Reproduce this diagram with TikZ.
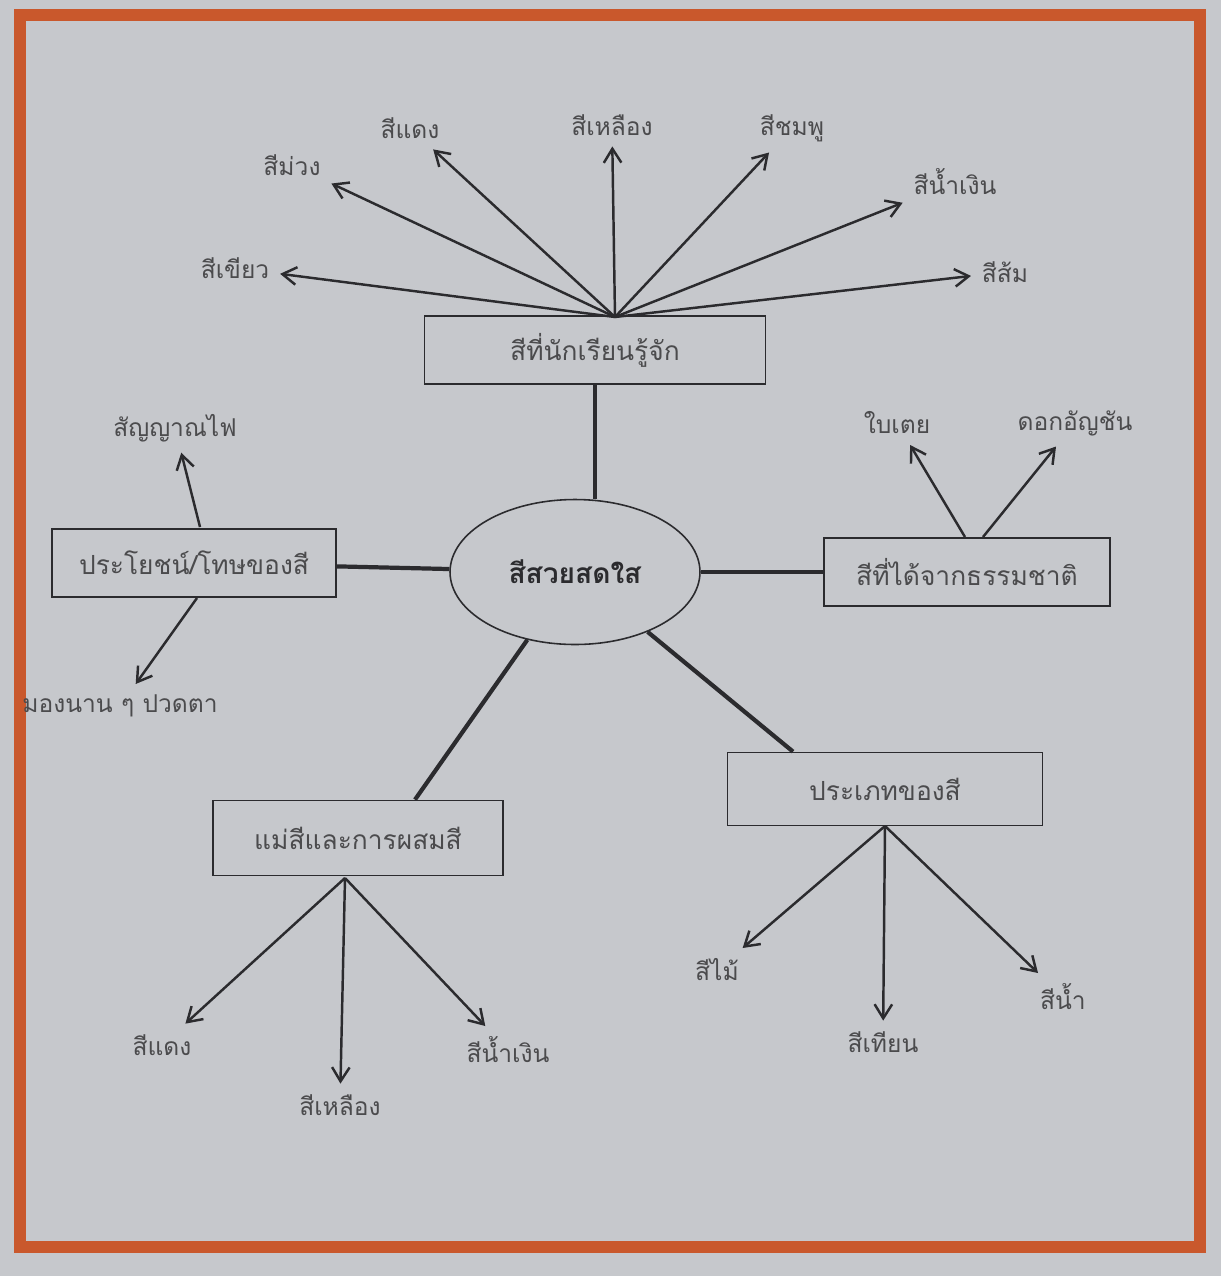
\documentclass[tikz,border=0pt]{standalone}
\usepackage{fontspec}
\newfontfamily\thaifont[Script=Thai]{Loma}
\usetikzlibrary{arrows.meta,shapes.geometric}
\definecolor{paper}{HTML}{C6C8CC}
\definecolor{frame}{HTML}{C9582C}
\definecolor{ink}{HTML}{2B2B2E}

\begin{document}
\begin{tikzpicture}[x=0.02cm,y=-0.02cm,
  box/.style={draw=ink,line width=1pt,minimum height=1.36cm,font=\thaifont\fontsize{15}{18}\selectfont,text=ink!85},
  hub/.style={ellipse,draw=ink,line width=0.9pt,minimum width=5cm,minimum height=2.9cm,font=\thaifont\bfseries\fontsize{16}{19}\selectfont,text=ink},
  lbl/.style={font=\thaifont\fontsize{14}{17}\selectfont,text=ink!85,inner sep=6pt},
  arr/.style={draw=ink,line width=1.4pt,-{Straight Barb[length=8pt,width=10pt,line width=1.4pt]}},
  link/.style={draw=ink,line width=2.4pt}]
  \useasboundingbox (0,0) rectangle (1221,1276);
  \fill[paper] (0,0) rectangle (1221,1276);
  \draw[frame,line width=0.24cm] (20,15) rectangle (1200,1247);
  % centre and topic boxes
  \node[hub] (hub) at (575,572) {สีสวยสดใส};
  \node[box,minimum width=6.82cm] (known) at (595,350) {สีที่นักเรียนรู้จัก};
  \node[box,minimum width=5.68cm] (benefit) at (194,563) {ประโยชน์/โทษของสี};
  \node[box,minimum width=5.72cm] (nature) at (967,572) {สีที่ได้จากธรรมชาติ};
  \node[box,minimum width=5.8cm,minimum height=1.5cm] (mixing) at (358,838) {แม่สีและการผสมสี};
  \node[box,minimum width=6.3cm,minimum height=1.46cm] (kinds) at (885,789) {ประเภทของสี};
  \draw[link] (known) -- (known |- hub.north);
  \draw[link] (hub) -- (benefit);
  \draw[link] (hub) -- (nature);
  \draw[link] (hub) -- ([xshift=1.14cm]mixing.north);
  \draw[link] (hub) -- ([xshift=-1.84cm]kinds.north);
  % colours the pupils know
  \coordinate (k) at (615,317);
  \node[lbl] (green) at (235,268) {สีเขียว};
  \node[lbl] (purple) at (292,165) {สีม่วง};
  \node[lbl] (red) at (410,128) {สีแดง};
  \node[lbl] (yellow) at (612,125) {สีเหลือง};
  \node[lbl] (pink) at (792,128) {สีชมพู};
  \node[lbl] (blue) at (955,182) {สีน้ำเงิน};
  \node[lbl] (orange) at (1005,272) {สีส้ม};
  \foreach \c in {green,purple,red,yellow,pink,blue,orange}
    \draw[arr] (k) -- (\c);
  % benefit and harm
  \coordinate (b1) at (200,527);
  \coordinate (b2) at (197,598);
  \node[lbl] (signal) at (175,428) {สัญญาณไฟ};
  \node[lbl] (eyes) at (120,706) {มองนาน ๆ ปวดตา};
  \draw[arr] (b1) -- (signal);
  \draw[arr] (b2) -- (eyes);
  % from nature
  \coordinate (n1) at (965,537);
  \coordinate (n2) at (983,537);
  \node[lbl] (pandan) at (897,423) {ใบเตย};
  \node[lbl] (pea) at (1075,423) {ดอกอัญชัน};
  \draw[arr] (n1) -- (pandan);
  \draw[arr] (n2) -- (pea);
  % primary colours
  \coordinate (m) at (345,878);
  \node[lbl] (mred) at (162,1045) {สีแดง};
  \node[lbl] (myellow) at (340,1105) {สีเหลือง};
  \node[lbl] (mblue) at (508,1050) {สีน้ำเงิน};
  \foreach \c in {mred,myellow,mblue}
    \draw[arr] (m) -- (\c);
  % kinds of colour
  \coordinate (t) at (885,826);
  \node[lbl] (pencil) at (717,970) {สีไม้};
  \node[lbl] (crayon) at (883,1042) {สีเทียน};
  \node[lbl] (water) at (1063,997) {สีน้ำ};
  \foreach \c in {pencil,crayon,water}
    \draw[arr] (t) -- (\c);
\end{tikzpicture}
\end{document}
